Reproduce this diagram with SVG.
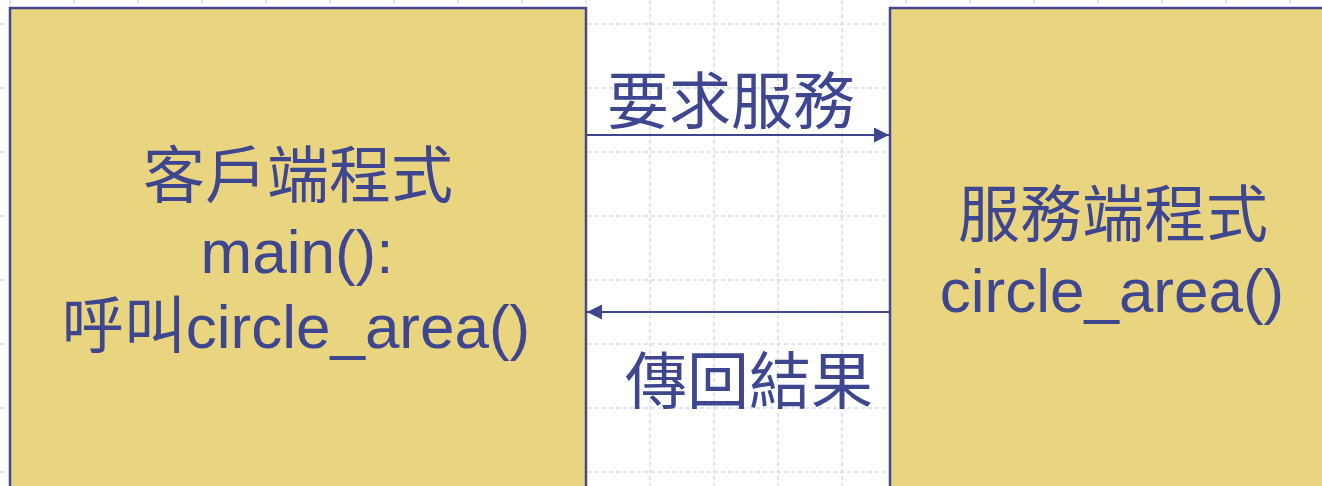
<svg xmlns="http://www.w3.org/2000/svg" width="1322" height="486" viewBox="0 0 1322 486">
  <defs>
    <style>
      .grid line { stroke: #cfdcf7; stroke-width: 1.5; stroke-dasharray: 4 3; }
      .box { fill: #e9d580; stroke: #434890; stroke-width: 2.5; }
      .t { font-family: "Liberation Sans", "Noto Sans CJK TC", sans-serif; font-size: 62px; fill: #3f4690; text-anchor: middle; }
      .conn { stroke: #3f4690; stroke-width: 2; fill: none; }
    </style>
    <marker id="ah" viewBox="0 0 10 10" refX="10" refY="5" markerWidth="15" markerHeight="15" markerUnits="userSpaceOnUse" orient="auto">
      <path d="M0,0 L10,5 L0,10 z" fill="#3f4690"/>
    </marker>
  </defs>
  <rect width="1322" height="486" fill="#ffffff"/>
  <g class="grid">
    <line x1="10" y1="0" x2="10" y2="486"/>
    <line x1="74" y1="0" x2="74" y2="486"/>
    <line x1="138" y1="0" x2="138" y2="486"/>
    <line x1="202" y1="0" x2="202" y2="486"/>
    <line x1="266" y1="0" x2="266" y2="486"/>
    <line x1="330" y1="0" x2="330" y2="486"/>
    <line x1="394" y1="0" x2="394" y2="486"/>
    <line x1="458" y1="0" x2="458" y2="486"/>
    <line x1="522" y1="0" x2="522" y2="486"/>
    <line x1="586" y1="0" x2="586" y2="486"/>
    <line x1="650" y1="0" x2="650" y2="486"/>
    <line x1="714" y1="0" x2="714" y2="486"/>
    <line x1="778" y1="0" x2="778" y2="486"/>
    <line x1="842" y1="0" x2="842" y2="486"/>
    <line x1="906" y1="0" x2="906" y2="486"/>
    <line x1="970" y1="0" x2="970" y2="486"/>
    <line x1="1034" y1="0" x2="1034" y2="486"/>
    <line x1="1098" y1="0" x2="1098" y2="486"/>
    <line x1="1162" y1="0" x2="1162" y2="486"/>
    <line x1="1226" y1="0" x2="1226" y2="486"/>
    <line x1="1290" y1="0" x2="1290" y2="486"/>
    <line x1="0" y1="24" x2="1322" y2="24"/>
    <line x1="0" y1="88" x2="1322" y2="88"/>
    <line x1="0" y1="152" x2="1322" y2="152"/>
    <line x1="0" y1="216" x2="1322" y2="216"/>
    <line x1="0" y1="280" x2="1322" y2="280"/>
    <line x1="0" y1="344" x2="1322" y2="344"/>
    <line x1="0" y1="408" x2="1322" y2="408"/>
    <line x1="0" y1="472" x2="1322" y2="472"/>
  </g>
  <g id="client">
    <rect class="box" x="10" y="8" width="576" height="490"/>
    <text class="t" x="298" y="198">客戶端程式</text>
    <text class="t" x="297" y="273">main():</text>
    <text class="t" x="296" y="348">呼叫circle_area()</text>
  </g>
  <g id="server">
    <rect class="box" x="890" y="8" width="450" height="490"/>
    <text class="t" x="1113" y="237">服務端程式</text>
    <text class="t" x="1112" y="312">circle_area()</text>
  </g>
  <g id="connectors">
    <line class="conn" x1="587" y1="135" x2="889" y2="135" marker-end="url(#ah)"/>
    <text class="t" x="731" y="124">要求服務</text>
    <line class="conn" x1="889" y1="312" x2="587" y2="312" marker-end="url(#ah)"/>
    <text class="t" x="749" y="404">傳回結果</text>
  </g>
</svg>
